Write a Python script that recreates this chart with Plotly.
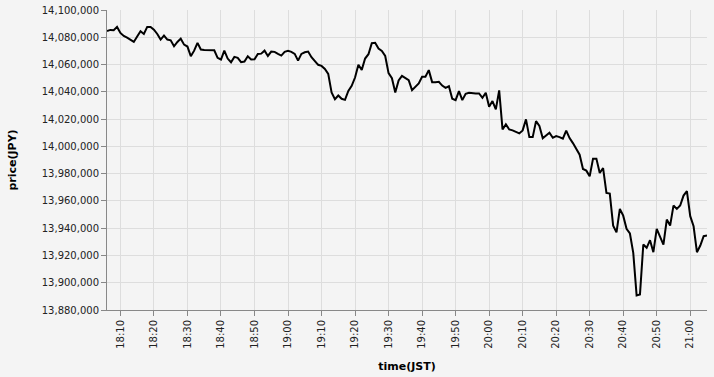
import plotly.graph_objects as go
import pandas as pd

start_time = "2024-01-01 18:06"

# 1-minute prices (JPY), 18:06 - 18:59
prices_18h = [
    14084600, 14085400, 14085100, 14087600, 14083200, 14081000, 14079800, 14078300, 14076600, 14080500,
    14084400, 14082400, 14087600, 14087600, 14085600, 14082400, 14078300, 14081200, 14078300, 14077800,
    14073400, 14076600, 14079000, 14074600, 14073200, 14066100, 14070200, 14075900, 14071000, 14070700,
    14070700, 14070500, 14070500, 14064900, 14063700, 14070200, 14064400, 14061700, 14065600, 14064900,
    14061700, 14062200, 14066100, 14063700, 14063900, 14067800, 14068000, 14070200, 14066300, 14069500,
    14069300, 14067800, 14066600, 14069300,
]
# 19:00 - 19:59
prices_19h = [
    14070000, 14069300, 14067800, 14062900, 14067800, 14069000, 14069500, 14065400, 14062200, 14059800,
    14059000, 14056800, 14053200, 14039500, 14034600, 14037300, 14034900, 14034100, 14040700, 14044400,
    14050500, 14059800, 14056100, 14064400, 14067600, 14075600, 14075900, 14071700, 14070000, 14066300,
    14053700, 14050000, 14039500, 14048300, 14051700, 14049800, 14048500, 14041200, 14043700, 14046100,
    14051000, 14051000, 14055900, 14047100, 14047100, 14047300, 14044600, 14042900, 14044100, 14034900,
    14033900, 14040500, 14033900, 14038500, 14039300, 14038800, 14038800, 14038800, 14035600, 14039300,
]
# 20:00 - 20:59
prices_20h = [
    14029000, 14033200, 14027100, 14041000, 14012400, 14016100, 14012400, 14011700, 14010700, 14009500,
    14011700, 14019800, 14006800, 14006800, 14018500, 14014900, 14005900, 14008000, 14010000, 14006300,
    14007600, 14006800, 14005600, 14011500, 14006100, 14002400, 13998000, 13993900, 13983400, 13982200,
    13978000, 13991000, 13991000, 13980500, 13984100, 13965800, 13965400, 13941900, 13937000, 13954100,
    13949200, 13939500, 13936100, 13921900, 13890700, 13891400, 13928000, 13925600, 13931200, 13922400,
    13939500, 13934100, 13928000, 13946300, 13941900, 13956600, 13954100, 13956600, 13963900, 13967100,
]
# 21:00 - 21:05
prices_21h = [13948800, 13941400, 13922400, 13927300, 13934100, 13934600]

prices = prices_18h + prices_19h + prices_20h + prices_21h
times = pd.date_range(start_time, periods=len(prices), freq="min")

y_ticks = list(range(13880000, 14100001, 20000))
x_tick0 = "2024-01-01 18:10"

FONT = "DejaVu Sans"
BG = "#f4f4f4"

fig = go.Figure()
fig.add_trace(go.Scatter(
    x=times, y=prices, mode="lines",
    line=dict(color="#000000", width=2),
    showlegend=False,
))

fig.update_layout(
    width=714, height=377, autosize=False,
    margin=dict(l=107, r=7, t=10, b=67),
    paper_bgcolor=BG, plot_bgcolor=BG,
    font=dict(family=FONT, color="#000"),
    xaxis=dict(
        type="date",
        range=[times[0], times[-1]],
        tick0=x_tick0, dtick=600000,
        tickformat="%H:%M", tickangle=-90,
        showgrid=True, gridcolor="#dddddd", gridwidth=1,
        showline=True, linecolor="#888888", linewidth=1,
        ticks="outside", ticklen=5, tickcolor="#888888",
        tickfont=dict(family=FONT, size=10, color="#222"),
        zeroline=False, automargin=False,
        title=dict(text="<b>time(JST)</b>", font=dict(family=FONT, size=11, color="#000"), standoff=14),
    ),
    yaxis=dict(
        range=[13880000, 14100000],
        tickvals=y_ticks, tickformat=",d",
        showgrid=True, gridcolor="#dddddd", gridwidth=1,
        showline=True, linecolor="#888888", linewidth=1,
        ticks="outside", ticklen=5, tickcolor="#888888",
        tickfont=dict(family=FONT, size=10, color="#222"),
        zeroline=False, automargin=False,
        title=dict(text="<b>price(JPY)</b>", font=dict(family=FONT, size=11, color="#000"), standoff=22),
    ),
)

fig.write_html("out.html")
